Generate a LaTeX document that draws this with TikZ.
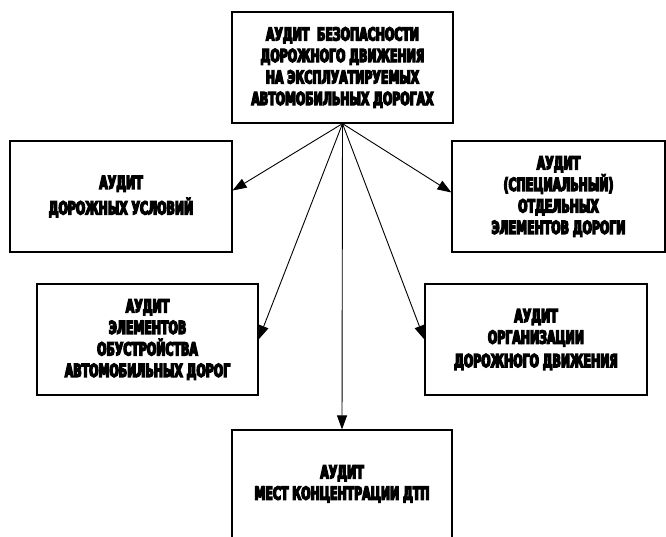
\documentclass[tikz,border=0pt]{standalone}
\usepackage{fontspec}
\usetikzlibrary{arrows.meta}
\newfontfamily\boxfont[FakeStretch=0.61,FakeBold=7]{DejaVu Sans Bold}
\begin{document}
\begin{tikzpicture}[x=1pt,y=-1pt,
  box/.style={draw=black,line width=1.2pt,fill=white,rectangle,inner sep=0pt,
    align=center,font=\boxfont\fontsize{18}{21.5}\selectfont},
  arr/.style={line width=0.9pt,-{Triangle[length=14pt,width=10pt]}}]
\useasboundingbox (0,0) rectangle (666,536);
\clip (0,0) rectangle (666,536);
\node[box,minimum width=221pt,minimum height=111pt] (top) at (342.5,67.5)
  {АУДИТ\ \ БЕЗОПАСНОСТИ\\ДОРОЖНОГО ДВИЖЕНИЯ\\НА ЭКСПЛУАТИРУЕМЫХ\\АВТОМОБИЛЬНЫХ ДОРОГАХ};
\node[box,minimum width=222pt,minimum height=111pt] (a) at (121,196.5)
  {АУДИТ\\[4pt]ДОРОЖНЫХ УСЛОВИЙ};
\node[box,minimum width=213pt,minimum height=111pt] (b) at (558.5,196.5)
  {АУДИТ\\(СПЕЦИАЛЬНЫЙ)\\ОТДЕЛЬНЫХ\\ЭЛЕМЕНТОВ ДОРОГИ};
\node[box,minimum width=221pt,minimum height=111pt] (c) at (147.5,339.5)
  {АУДИТ\\ЭЛЕМЕНТОВ\\ОБУСТРОЙСТВА\\АВТОМОБИЛЬНЫХ ДОРОГ};
\node[box,minimum width=222pt,minimum height=111pt] (d) at (536,339.5)
  {АУДИТ\\ОРГАНИЗАЦИИ\\[2pt]ДОРОЖНОГО ДВИЖЕНИЯ};
\node[box,minimum width=220pt,minimum height=140pt,text depth=0pt] (e) at (342,500)
  {\raisebox{35pt}{\shortstack{АУДИТ\\[2pt]МЕСТ КОНЦЕНТРАЦИИ ДТП}}};
\coordinate (o) at (top.south);
\draw[arr] (o) -- ([yshift=6pt]a.east);
\draw[arr] (o) -- ([yshift=4pt]b.west);
\draw[arr] (o) -- (c.east);
\draw[arr] (o) -- (d.west);
\draw[arr] (o) -- (e.north);
\end{tikzpicture}
\end{document}
